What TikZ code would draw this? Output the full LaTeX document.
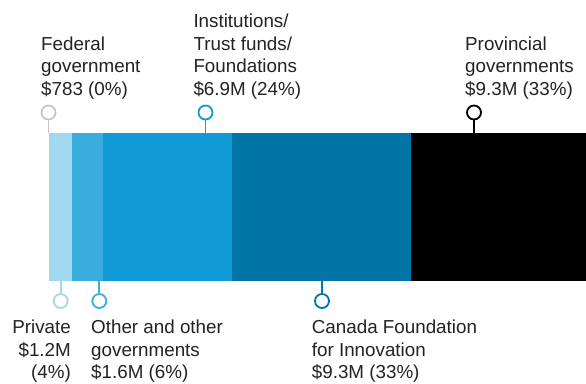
\documentclass[tikz,border=0pt]{standalone}
\usepackage{fontspec}
\setmainfont{Liberation Sans}
\definecolor{cA}{HTML}{A0D8F0}
\definecolor{cB}{HTML}{3BAEE0}
\definecolor{cC}{HTML}{109BD7}
\definecolor{cD}{HTML}{0075A6}
\definecolor{cE}{HTML}{000000}
\definecolor{cG}{HTML}{C6C6C6}
\definecolor{txt}{HTML}{222222}
\tikzset{
  seg/.style={fill=#1, draw=none},
  pin/.style={circle, draw=#1, line width=1.8pt, fill=white, minimum size=14pt, inner sep=0pt},
  stem/.style={draw=#1, line width=1.8pt},
  lbl/.style={font=\fontsize{18.8}{22.5}\selectfont, text=txt, inner sep=0pt, align=left},
  lblr/.style={font=\fontsize{18.8}{22.5}\selectfont, text=txt, inner sep=0pt, align=right},
}
\begin{document}
\begin{tikzpicture}[x=1pt,y=-1pt]
\useasboundingbox (0,0) rectangle (586,383);
% bar segments
\path[seg=cA] (49,132.5) rectangle (72,281);
\path[seg=cB] (72,132.5) rectangle (103,281);
\path[seg=cC] (103,132.5) rectangle (232,281);
\path[seg=cD] (232,132.5) rectangle (411,281);
\path[seg=cE] (411,132.5) rectangle (586,281);
% anchor points on bar
\coordinate (fedb) at (48.5,133);
\coordinate (insb) at (205.5,133);
\coordinate (prob) at (474,133);
\coordinate (prib) at (60.7,281);
\coordinate (othb) at (99.3,281);
\coordinate (cfib) at (322,281);
% pins
\node[pin=cG] (fedp) at (48.5,112.5) {};
\node[pin=cC] (insp) at (205.5,112.5) {};
\node[pin=cE] (prop) at (474,112.5) {};
\node[pin=cA] (prip) at (60.7,301) {};
\node[pin=cB] (othp) at (99.3,301) {};
\node[pin=cD] (cfip) at (322,301) {};
\draw[stem=cG] (fedp) -- (fedb);
\draw[stem=cC] (insp) -- (insb);
\draw[stem=cE] (prop) -- (prob);
\draw[stem=cA] (prip) -- (prib);
\draw[stem=cB] (othp) -- (othb);
\draw[stem=cD] (cfip) -- (cfib);
% labels (base anchor = baseline of last line)
\node[lbl, anchor=base west] (fedt) at (41,95) {Federal\\government\\\$783 (0\%)};
\node[lbl, anchor=base west] (inst) at (193.3,95) {Institutions/\\Trust funds/\\Foundations\\\$6.9M (24\%)};
\node[lbl, anchor=base west] (prot) at (465,95) {Provincial\\governments\\\$9.3M (33\%)};
\node[lblr, anchor=base east] (prit) at (71,378.5) {Private\\\$1.2M\\(4\%)};
\node[lbl, anchor=base west] (otht) at (91,378.5) {Other and other\\governments\\\$1.6M (6\%)};
\node[lbl, anchor=base west] (cfit) at (311.7,378.5) {Canada Foundation\\for Innovation\\\$9.3M (33\%)};
\end{tikzpicture}
\end{document}
